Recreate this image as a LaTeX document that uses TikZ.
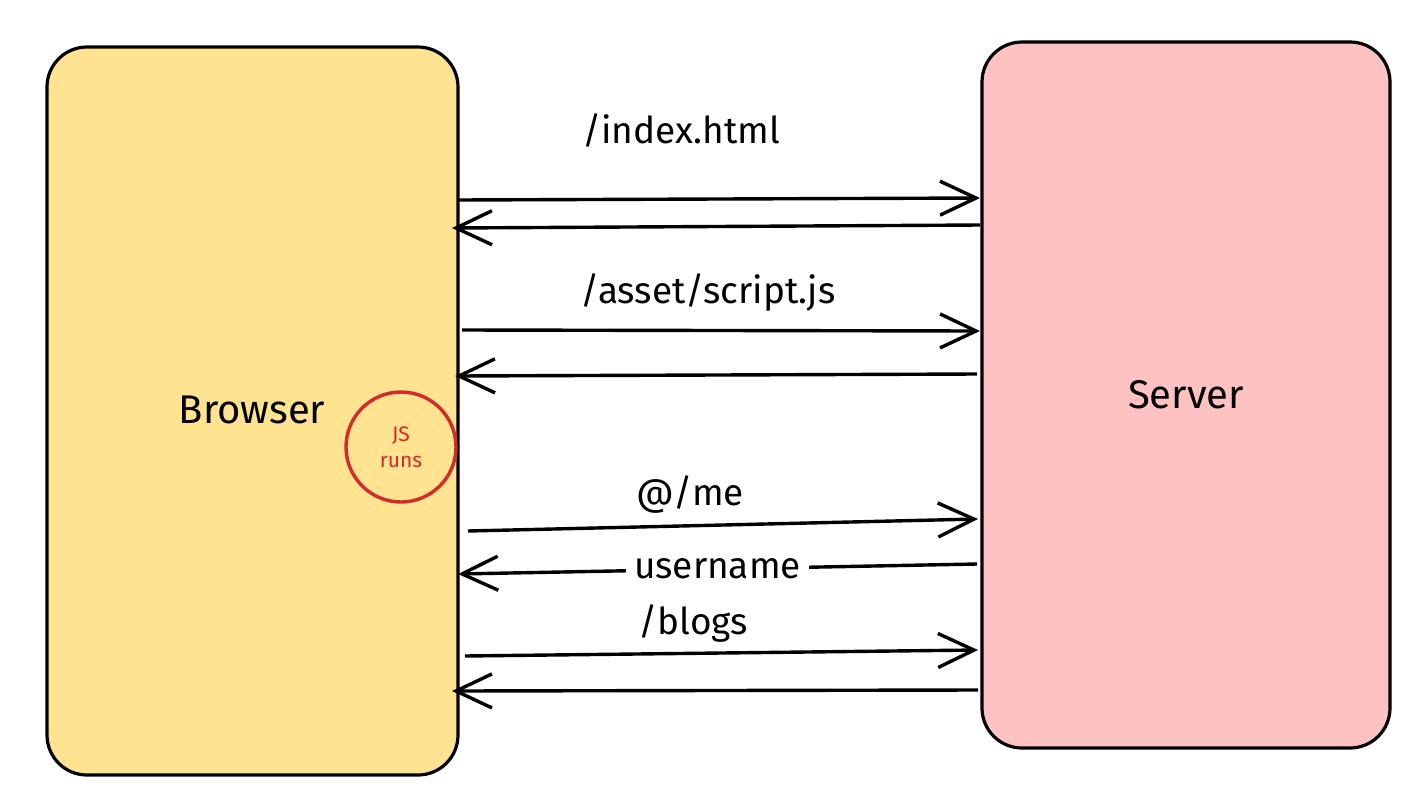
\documentclass[tikz,border=0pt]{standalone}
\usepackage{fontspec}
\setmainfont{Fira Sans}
\usetikzlibrary{arrows.meta}
\definecolor{byellow}{HTML}{FFE390}
\definecolor{spink}{HTML}{FFC2C2}
\definecolor{jsred}{HTML}{D52A2A}
\tikzset{
  box/.style={draw=black, line width=3.2pt, rounded corners=40pt, inner sep=0pt},
  msg/.style={line width=3.4pt, -{Straight Barb[length=36pt,width=34pt,line width=3.4pt]}},
  lbl/.style={font=\fontsize{37}{40}\selectfont, inner sep=2pt},
}
\begin{document}
\begin{tikzpicture}[x=1pt,y=-1pt]
\useasboundingbox (0,0) rectangle (1419,785);
\fill[white] (0,0) rectangle (1419,785);
\node[box, fill=byellow, minimum width=411pt, minimum height=728pt] (browser) at (252.5,411) {};
\node[box, fill=spink, minimum width=408pt, minimum height=706pt] (server) at (1186,395) {};
\node[font=\fontsize{40}{44}\selectfont] (btext) at (252,410) {Browser};
\node[font=\fontsize{40}{44}\selectfont] (stext) at (1186,395) {Server};
\node[draw=jsred, line width=3.4pt, circle, minimum size=110pt, text=jsred, font=\fontsize{21}{26}\selectfont, align=center] (js) at (401,447) {JS\\runs};
% coordinates
\coordinate (a1s) at (458,200); \coordinate (a1e) at (980,198);
\coordinate (a2s) at (980,225); \coordinate (a2e) at (452,228);
\coordinate (a3s) at (462,330); \coordinate (a3e) at (980,331);
\coordinate (a4s) at (977,374); \coordinate (a4e) at (455,376);
\coordinate (a5s) at (468,531); \coordinate (a5e) at (978,519);
\coordinate (a6s) at (977,564); \coordinate (a6e) at (458,574);
\coordinate (a7s) at (465,656); \coordinate (a7e) at (978,650);
\coordinate (a8s) at (978,690); \coordinate (a8e) at (452,691);
\draw[msg] (a1s) -- (a1e);
\draw[msg] (a2s) -- (a2e);
\draw[msg] (a3s) -- (a3e);
\draw[msg] (a4s) -- (a4e);
\draw[msg] (a5s) -- (a5e);
\draw[msg] (a6s) -- node[lbl, fill=white, inner xsep=8pt, inner ysep=0pt, pos=0.5] (l6) {username} (a6e);
\draw[msg] (a7s) -- (a7e);
\draw[msg] (a8s) -- (a8e);
\node[lbl] (l1) at (681,130) {/index.html};
\node[lbl] (l3) at (708,293) {/asset/script.js};
\node[lbl] (l5) at (690,495) {@/me};
\node[lbl] (l7) at (693,623) {/blogs};
\end{tikzpicture}
\end{document}
